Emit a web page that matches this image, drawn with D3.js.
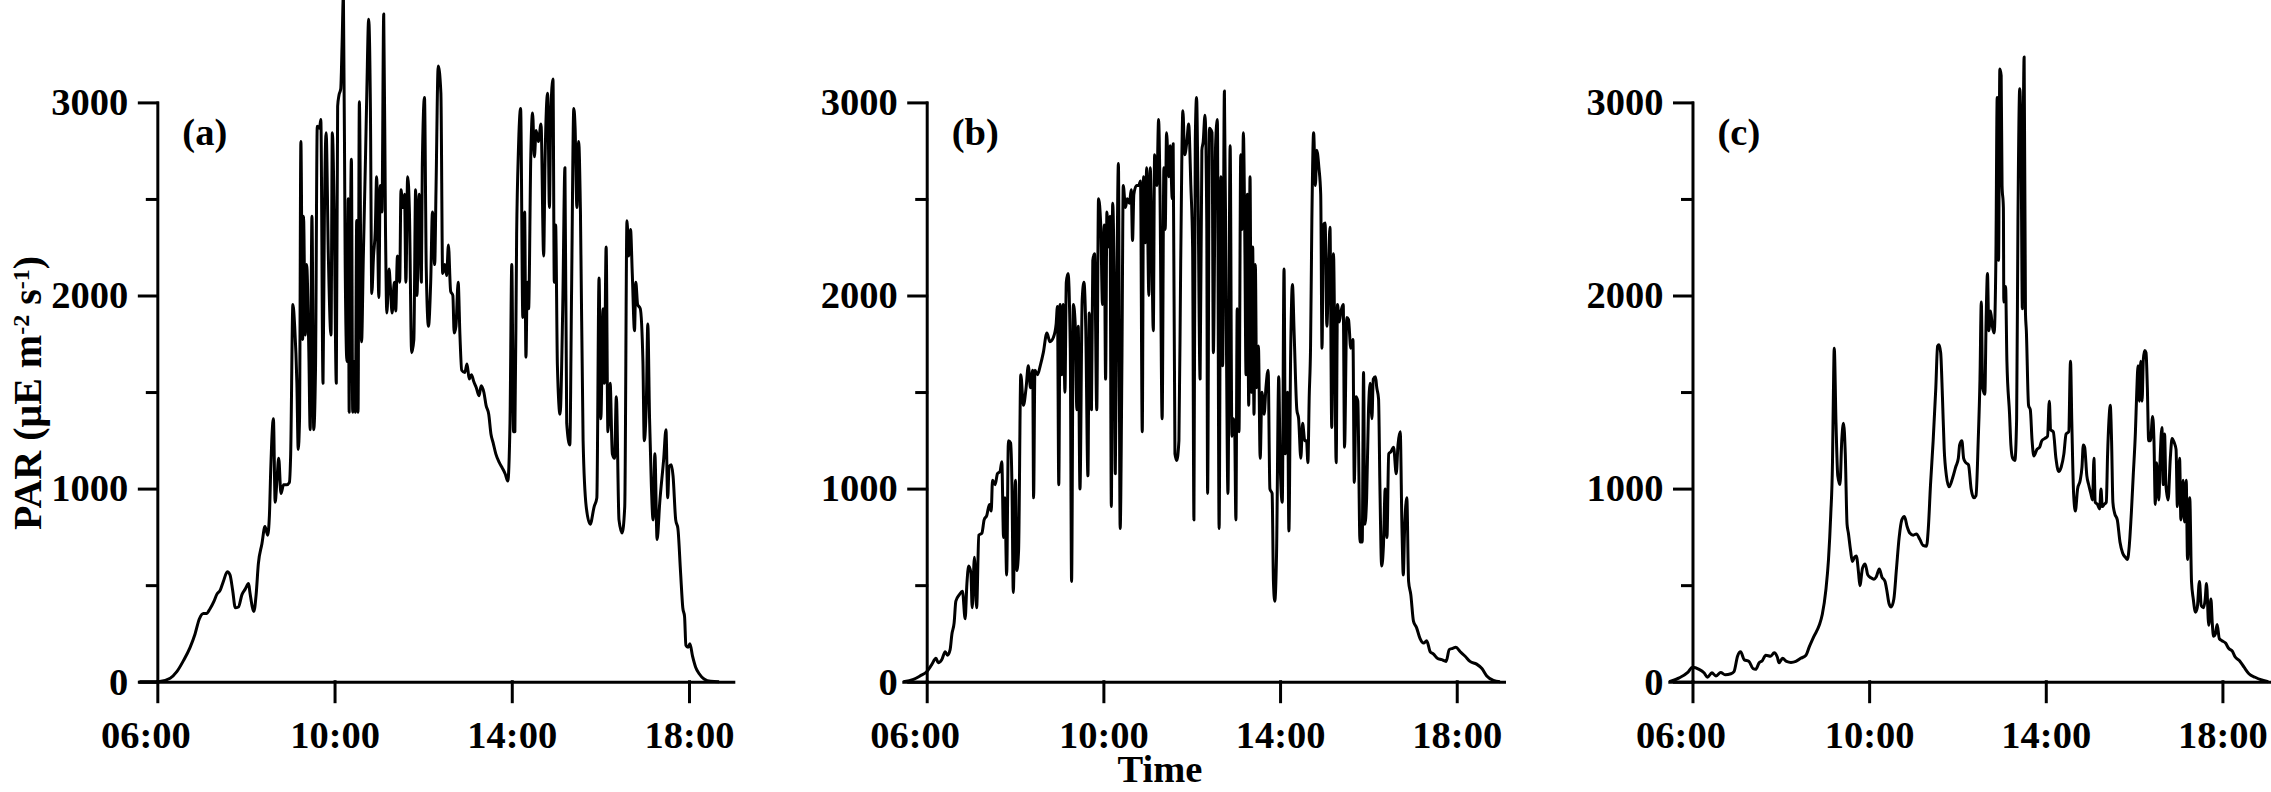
<!DOCTYPE html>
<html><head><meta charset="utf-8">
<script src="https://cdn.jsdelivr.net/npm/d3@7"></script>
<style>html,body{margin:0;padding:0;background:#fff;} svg{display:block;}</style>
</head><body>
<svg id="chart" width="2271" height="792"></svg>
<script>
// ---------------- data ----------------
const panelLabels = ["(a)", "(b)", "(c)"];
const xTickValues = [6, 10, 14, 18];
const xTickLabels = ["06:00", "10:00", "14:00", "18:00"];
const yMajorTicks = [0, 1000, 2000, 3000];
const yMinorTicks = [500, 1500, 2500];
const xAxisTitle = "Time";

// [hour of day, PAR (µE m-2 s-1)]
const seriesA = [[5.6,0],[6.02,0],[6.29,18],[6.44,52],[6.59,109],[6.74,178],[6.85,246],[6.95,326],[7.04,353],[7.11,353],[7.19,378],[7.28,417],[7.34,451],[7.42,474],[7.49,519],[7.58,569],[7.64,553],[7.70,474],[7.76,383],[7.83,387],[7.91,451],[7.98,478],[8.06,508],[8.09,462],[8.18,364],[8.23,451],[8.28,610],[8.36,713],[8.43,804],[8.49,759],[8.53,861],[8.56,1100],[8.62,1362],[8.66,929],[8.70,1043],[8.74,1157],[8.79,975],[8.85,1020],[8.92,1020],[8.98,1032],[9.01,1180],[9.06,1954],[9.10,1841],[9.15,1545],[9.18,1203],[9.21,1362],[9.24,2797],[9.28,1772],[9.30,2410],[9.34,1795],[9.37,2160],[9.42,1704],[9.45,1305],[9.49,2410],[9.53,1305],[9.57,1613],[9.61,2877],[9.66,2866],[9.69,2911],[9.74,1545],[9.77,2388],[9.81,2843],[9.86,2205],[9.92,1795],[9.95,2843],[9.99,2456],[10.04,1545],[10.07,2980],[10.10,3037],[10.14,3071],[10.17,3299],[10.20,3560],[10.24,2160],[10.28,1658],[10.31,2501],[10.33,1396],[10.35,2023],[10.38,2706],[10.41,1396],[10.44,1658],[10.47,1396],[10.50,2388],[10.53,1396],[10.56,3003],[10.61,1761],[10.65,2205],[10.70,2729],[10.73,3071],[10.77,3431],[10.81,2957],[10.84,2011],[10.88,2205],[10.92,2342],[10.95,2615],[11.00,1989],[11.03,2570],[11.07,2433],[11.11,3458],[11.15,2342],[11.18,1909],[11.23,2137],[11.26,2046],[11.30,1909],[11.35,2069],[11.38,1920],[11.42,2205],[11.47,2069],[11.50,2547],[11.54,2456],[11.58,2524],[11.61,2069],[11.65,2615],[11.69,2433],[11.74,1704],[11.79,1772],[11.83,2547],[11.86,2000],[11.91,2524],[11.96,2069],[11.98,2661],[12.03,3026],[12.07,2137],[12.12,1841],[12.17,2069],[12.21,2433],[12.26,2160],[12.29,2547],[12.34,3189],[12.40,3048],[12.44,2114],[12.49,2160],[12.53,2103],[12.57,2262],[12.62,2023],[12.67,2000],[12.70,1806],[12.74,1841],[12.79,2068],[12.83,1795],[12.87,1613],[12.94,1601],[12.99,1645],[13.04,1567],[13.09,1590],[13.14,1556],[13.20,1522],[13.26,1481],[13.31,1533],[13.37,1499],[13.42,1431],[13.48,1385],[13.53,1283],[13.58,1237],[13.64,1180],[13.72,1134],[13.79,1105],[13.85,1077],[13.91,1039],[13.96,1339],[14.00,2160],[14.04,1294],[14.07,1294],[14.11,2319],[14.15,2752],[14.20,2968],[14.25,1886],[14.29,2433],[14.32,1681],[14.35,2068],[14.38,1932],[14.43,2729],[14.47,2945],[14.51,2718],[14.55,2854],[14.60,2797],[14.66,2888],[14.72,2205],[14.75,2684],[14.81,3048],[14.85,2456],[14.88,2934],[14.93,3121],[14.96,2068],[14.99,2365],[15.03,1636],[15.09,1385],[15.15,1932],[15.20,2661],[15.24,1339],[15.31,1226],[15.35,2023],[15.40,2968],[15.43,2866],[15.47,2456],[15.51,2797],[15.55,2433],[15.61,1248],[15.68,907],[15.77,816],[15.86,907],[15.92,952],[15.97,2091],[16.01,1362],[16.06,1932],[16.09,1545],[16.13,2251],[16.17,1294],[16.22,1545],[16.27,1180],[16.32,1157],[16.36,1476],[16.42,838],[16.49,770],[16.55,907],[16.60,2387],[16.64,2205],[16.68,2342],[16.72,2114],[16.77,1818],[16.80,2068],[16.84,1954],[16.90,1932],[16.96,1659],[16.99,1248],[17.04,1476],[17.07,1852],[17.11,1362],[17.15,1021],[17.19,838],[17.23,1180],[17.28,736],[17.34,929],[17.43,1157],[17.48,1305],[17.52,952],[17.55,1112],[17.60,1123],[17.64,1066],[17.70,838],[17.75,793],[17.81,565],[17.86,383],[17.90,337],[17.93,189],[17.98,178],[18.02,196],[18.08,132],[18.15,75],[18.23,41],[18.34,14],[18.49,2],[18.68,0]];

const seriesB = [[5.47,0],[5.7,12],[5.85,30],[6.0,52],[6.11,87],[6.21,121],[6.26,98],[6.34,114],[6.42,155],[6.47,137],[6.53,166],[6.57,246],[6.62,303],[6.66,417],[6.74,451],[6.81,469],[6.87,326],[6.91,508],[6.95,599],[7.00,565],[7.03,383],[7.08,645],[7.13,383],[7.18,759],[7.25,770],[7.30,838],[7.36,861],[7.42,918],[7.46,884],[7.49,1043],[7.55,1020],[7.60,1077],[7.66,1089],[7.70,1139],[7.74,747],[7.77,952],[7.81,553],[7.85,1248],[7.90,1237],[7.93,1020],[7.96,462],[8.01,1043],[8.04,576],[8.08,679],[8.13,1590],[8.19,1431],[8.25,1522],[8.30,1636],[8.35,1522],[8.40,1613],[8.42,952],[8.45,1613],[8.51,1590],[8.57,1636],[8.64,1704],[8.72,1806],[8.79,1761],[8.87,1784],[8.93,1852],[8.96,1943],[8.99,1020],[9.02,1954],[9.06,1590],[9.09,1954],[9.13,1499],[9.16,2068],[9.20,2114],[9.25,1727],[9.28,519],[9.32,1954],[9.36,1863],[9.40,1408],[9.43,1841],[9.47,998],[9.52,1977],[9.56,2068],[9.60,1841],[9.65,1066],[9.68,1909],[9.73,1408],[9.76,2182],[9.80,2216],[9.85,1408],[9.89,2501],[9.94,2365],[9.98,1954],[10.02,2365],[10.05,1567],[10.08,2433],[10.12,2251],[10.15,2410],[10.18,907],[10.21,2478],[10.24,2137],[10.27,1077],[10.30,1886],[10.34,2684],[10.38,793],[10.42,1659],[10.45,2570],[10.50,2456],[10.54,2501],[10.59,2478],[10.63,2547],[10.66,2285],[10.69,2524],[10.75,2570],[10.80,2570],[10.84,2593],[10.88,1294],[10.91,2615],[10.95,2273],[10.98,2661],[11.03,2000],[11.06,2661],[11.09,2388],[11.13,1818],[11.16,2729],[11.21,2570],[11.25,2911],[11.28,2570],[11.33,1362],[11.37,2661],[11.40,2342],[11.43,2843],[11.48,2615],[11.51,2775],[11.56,2501],[11.58,2786],[11.62,1180],[11.66,1146],[11.71,1248],[11.75,2160],[11.80,2957],[11.84,2729],[11.89,2797],[11.93,2888],[11.98,2570],[12.02,2251],[12.05,838],[12.08,2797],[12.11,3026],[12.14,2593],[12.19,1567],[12.23,2752],[12.26,2797],[12.30,2934],[12.34,2388],[12.36,975],[12.40,2866],[12.46,2843],[12.49,1704],[12.54,2775],[12.58,2911],[12.62,793],[12.66,2615],[12.70,1636],[12.74,3059],[12.78,1932],[12.82,975],[12.87,2775],[12.91,1271],[12.94,1362],[12.97,1339],[13.00,838],[13.03,1932],[13.07,1294],[13.11,2729],[13.14,2342],[13.17,2843],[13.20,2342],[13.23,1590],[13.26,2524],[13.29,1431],[13.32,2615],[13.35,1499],[13.38,2251],[13.41,1385],[13.44,2160],[13.47,1522],[13.51,1738],[13.55,1157],[13.59,1499],[13.64,1385],[13.68,1522],[13.73,1613],[13.77,998],[13.82,975],[13.85,519],[13.88,417],[13.92,656],[13.97,1579],[14.00,1157],[14.05,929],[14.09,2137],[14.12,1180],[14.17,1499],[14.20,781],[14.24,1704],[14.28,2057],[14.32,1795],[14.38,1408],[14.42,1362],[14.47,1157],[14.51,1339],[14.56,1248],[14.60,1248],[14.63,1134],[14.66,1476],[14.69,1727],[14.72,2388],[14.76,2843],[14.80,2570],[14.83,2752],[14.88,2661],[14.92,2524],[14.95,1727],[14.98,2365],[15.02,2376],[15.06,1841],[15.10,2160],[15.13,2353],[15.17,1317],[15.21,2216],[15.24,1704],[15.27,1134],[15.30,1954],[15.34,1863],[15.38,1920],[15.43,1954],[15.46,1214],[15.51,1886],[15.55,1875],[15.60,1727],[15.65,1772],[15.68,1032],[15.72,1476],[15.76,1453],[15.81,724],[15.86,724],[15.89,1601],[15.92,816],[15.96,952],[16.00,1385],[16.04,1545],[16.08,1362],[16.11,1567],[16.16,1579],[16.19,1522],[16.23,1465],[16.26,1021],[16.30,599],[16.34,702],[16.38,998],[16.42,747],[16.46,1180],[16.51,1191],[16.57,1214],[16.63,1077],[16.67,1226],[16.72,1294],[16.76,793],[16.79,553],[16.82,793],[16.87,952],[16.91,519],[16.96,451],[17.02,314],[17.09,280],[17.17,223],[17.25,200],[17.32,212],[17.40,155],[17.47,144],[17.56,121],[17.66,114],[17.76,105],[17.83,166],[17.91,173],[17.98,178],[18.08,155],[18.19,132],[18.30,105],[18.45,91],[18.57,68],[18.68,30],[18.83,7],[18.98,0]];

const seriesC = [[5.475,0],[5.7,20],[5.9,50],[6.0,75],[6.15,64],[6.26,46],[6.34,23],[6.44,46],[6.53,30],[6.64,48],[6.74,36],[6.87,41],[6.94,52],[7.02,132],[7.09,155],[7.17,114],[7.28,105],[7.37,68],[7.43,64],[7.51,98],[7.58,109],[7.66,137],[7.77,132],[7.85,150],[7.92,128],[7.96,98],[8.04,121],[8.13,105],[8.23,100],[8.34,105],[8.45,121],[8.57,137],[8.64,178],[8.75,235],[8.87,292],[8.94,349],[9.02,474],[9.08,633],[9.13,861],[9.17,1134],[9.19,1476],[9.21,1727],[9.25,1339],[9.29,1066],[9.34,1021],[9.38,1248],[9.42,1339],[9.46,1180],[9.50,816],[9.53,770],[9.58,679],[9.62,622],[9.67,645],[9.71,651],[9.76,565],[9.79,497],[9.85,588],[9.91,610],[9.97,553],[10.04,538],[10.11,531],[10.16,542],[10.23,583],[10.29,542],[10.36,519],[10.40,474],[10.45,405],[10.50,387],[10.56,428],[10.62,588],[10.68,747],[10.74,838],[10.80,856],[10.86,804],[10.92,770],[11.00,759],[11.07,765],[11.15,736],[11.22,706],[11.30,702],[11.34,793],[11.39,1021],[11.45,1248],[11.51,1522],[11.55,1738],[11.58,1745],[11.62,1704],[11.66,1476],[11.70,1203],[11.75,1066],[11.81,1009],[11.89,1055],[11.96,1112],[12.02,1157],[12.05,1226],[12.10,1248],[12.14,1157],[12.19,1134],[12.25,1123],[12.31,998],[12.37,952],[12.42,964],[12.47,1248],[12.51,1567],[12.54,1966],[12.57,1522],[12.62,1488],[12.65,1886],[12.68,2114],[12.71,1818],[12.75,1920],[12.79,1841],[12.83,1806],[12.87,2182],[12.90,3025],[12.93,2182],[12.96,3173],[12.99,3139],[13.01,2570],[13.04,2456],[13.05,1966],[13.09,2046],[13.12,1659],[13.18,1385],[13.21,1226],[13.25,1157],[13.30,1146],[13.34,1362],[13.37,2387],[13.41,3071],[13.44,2797],[13.47,1932],[13.49,2843],[13.51,3235],[13.54,1909],[13.56,1818],[13.61,1431],[13.65,1408],[13.69,1248],[13.73,1169],[13.80,1203],[13.86,1214],[13.91,1248],[13.98,1260],[14.04,1271],[14.08,1453],[14.11,1305],[14.17,1294],[14.23,1157],[14.29,1089],[14.35,1112],[14.41,1180],[14.46,1283],[14.52,1294],[14.56,1659],[14.59,1339],[14.63,975],[14.67,884],[14.72,998],[14.78,1043],[14.82,1112],[14.85,1226],[14.88,1214],[14.93,1066],[14.97,1021],[15.02,975],[15.06,941],[15.09,1157],[15.12,929],[15.17,918],[15.22,895],[15.25,998],[15.28,907],[15.32,918],[15.37,929],[15.40,1180],[15.43,1351],[15.46,1431],[15.49,1248],[15.52,929],[15.56,872],[15.62,838],[15.68,724],[15.74,667],[15.80,645],[15.85,633],[15.89,702],[15.94,884],[15.98,1066],[16.03,1294],[16.06,1499],[16.09,1636],[16.12,1453],[16.15,1659],[16.18,1453],[16.21,1670],[16.24,1715],[16.27,1704],[16.30,1522],[16.33,1248],[16.37,1248],[16.42,1374],[16.45,1248],[16.48,918],[16.51,1134],[16.56,941],[16.59,1157],[16.63,1317],[16.66,1021],[16.69,1283],[16.72,1021],[16.77,941],[16.82,1157],[16.86,1260],[16.91,1237],[16.95,1203],[16.98,907],[17.03,1157],[17.06,838],[17.11,1043],[17.14,827],[17.18,1043],[17.21,633],[17.26,952],[17.30,519],[17.34,428],[17.39,360],[17.43,383],[17.48,519],[17.52,394],[17.57,383],[17.61,428],[17.64,508],[17.69,292],[17.74,428],[17.77,303],[17.80,235],[17.84,246],[17.88,296],[17.93,223],[17.99,212],[18.07,200],[18.14,173],[18.22,159],[18.29,128],[18.40,105],[18.49,75],[18.60,41],[18.74,23],[18.89,9],[19.04,0]];

// ---------------- drawing ----------------
const W = 2271, H = 792;
const FONT = "'Liberation Serif','Times New Roman',Times,serif";
const FS = 38.5;
const svg = d3.select("#chart");
svg.append("rect").attr("width", W).attr("height", H).attr("fill", "#fff");

const y = d3.scaleLinear().domain([0, 3000]).range([681.7, 102.4]);

const panels = [
  {data: seriesA, label: panelLabels[0], domain: [5.6, 19.0], range: [139.6, 733.3]},
  {data: seriesB, label: panelLabels[1], domain: [5.47, 19.07], range: [903.3, 1504]},
  {data: seriesC, label: panelLabels[2], domain: [5.475, 19.1], range: [1669.3, 2271]}
];

panels.forEach((p, i) => {
  const x = d3.scaleLinear().domain(p.domain).range(p.range);
  const g = svg.append("g");
  const x6 = x(6);

  const xa = g.append("g").attr("transform", `translate(0,${y(0)})`)
    .call(d3.axisBottom(x).tickValues(xTickValues)
      .tickFormat((d, k) => xTickLabels[k]).tickSize(20).tickSizeOuter(0).tickPadding(19));
  const ya = g.append("g").attr("transform", `translate(${x6},0)`)
    .call(d3.axisLeft(y).tickValues(yMajorTicks).tickFormat(d3.format("d"))
      .tickSize(18).tickSizeOuter(0).tickPadding(11));
  const ym = g.append("g").attr("transform", `translate(${x6},0)`)
    .call(d3.axisLeft(y).tickValues(yMinorTicks).tickFormat("").tickSize(10).tickSizeOuter(0));
  ym.select(".domain").remove();

  [xa, ya, ym].forEach(a => {
    a.attr("color", "#000");
    a.selectAll("path,line").attr("stroke-width", 3).attr("stroke-linecap", "square");
    a.selectAll("text").attr("font-family", FONT).attr("font-size", FS)
      .attr("font-weight", "bold").attr("fill", "#000");
  });
  xa.selectAll(".tick text").filter((d, k) => k === 0).attr("dx", -12);

  const line = d3.line().x(d => x(d[0])).y(d => y(d[1])).curve(d3.curveMonotoneX);
  g.append("path").datum(p.data).attr("d", line)
    .attr("fill", "none").attr("stroke", "#000").attr("stroke-width", 3)
    .attr("stroke-linejoin", "round");

  g.append("text").attr("x", x6 + 25).attr("y", 145)
    .attr("font-family", FONT).attr("font-size", FS).attr("font-weight", "bold")
    .text(p.label);
});

// y axis title
const FT = 40;
const yt = svg.append("text")
  .attr("transform", "translate(41,393) rotate(-90)")
  .attr("text-anchor", "middle")
  .attr("font-family", FONT).attr("font-size", FT).attr("font-weight", "bold");
yt.append("tspan").text("PAR (μE m");
yt.append("tspan").attr("dy", -12).attr("font-size", FT * 0.6).text("-2");
yt.append("tspan").attr("dy", 12).text(" s");
yt.append("tspan").attr("dy", -12).attr("font-size", FT * 0.6).text("-1");
yt.append("tspan").attr("dy", 12).text(")");

// x axis title
svg.append("text").attr("x", 1160).attr("y", 782)
  .attr("text-anchor", "middle")
  .attr("font-family", FONT).attr("font-size", FS).attr("font-weight", "bold")
  .text(xAxisTitle);
</script>
</body></html>
